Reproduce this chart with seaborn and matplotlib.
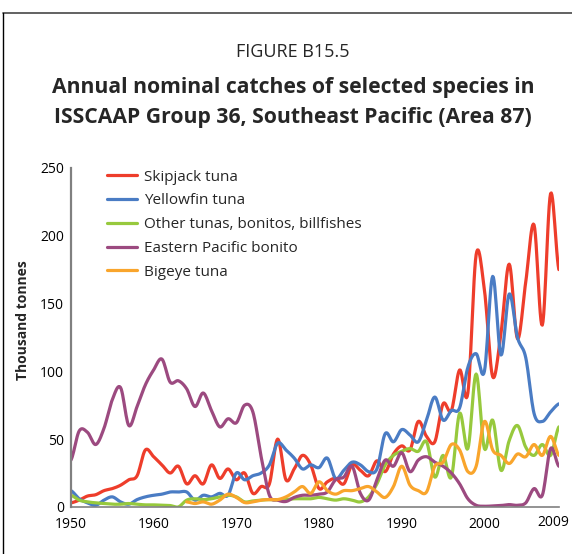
import numpy as np
import pandas as pd
import matplotlib.pyplot as plt
import matplotlib.transforms as mtransforms
import seaborn as sns
from matplotlib.lines import Line2D

# Annual catches, thousand tonnes
years = list(range(1950, 2010))

skipjack = [3, 5, 8, 9, 12, 13.5, 16, 20, 23, 42, 37, 31, 25, 30, 17, 23, 17, 31, 21, 28,
            20, 25, 10, 15, 17, 50, 20, 28, 38, 31, 13.5, 18.5, 21, 17, 31, 27, 23, 34, 26, 39,
            45, 42, 63, 52, 48, 76, 71, 101, 84, 186, 160, 96, 128, 179, 124, 166, 208, 134, 231, 175]

yellowfin = [12, 6, 3, 1.2, 5, 7.4, 3.7, 2, 5.4, 7.4, 8.6, 9.4, 11, 11, 11, 5, 8.6, 7.4, 10, 8.6,
             25, 20, 23, 25, 31, 47, 42, 36, 28, 31, 29, 36, 21, 27, 33, 31, 26, 28, 54, 48,
             57, 53, 48, 64, 81, 64, 71, 73, 103, 113, 100, 170, 112, 157, 125, 110, 69, 63, 70, 76]

other_tunas = [8.6, 5, 3.7, 3, 2.5, 2, 2, 2.5, 2, 1.5, 1.5, 1.2, 1, 0, 5, 6, 5.4, 6, 7.4, 8.6,
               7.4, 3.7, 4.4, 5, 5.4, 5, 5.4, 6, 6, 6, 7, 6, 5, 6, 5, 3.7, 7.4, 17, 31, 38,
               41, 43, 41, 48, 22, 38, 22, 69, 43, 98, 43, 64, 27, 49, 60, 44, 38, 46, 38, 59]

ep_bonito = [34.5, 56, 55, 46, 58, 79, 88, 60, 74, 90, 101, 109, 92, 93, 87, 74, 84, 71, 59, 65,
             62, 75, 70, 37, 8.6, 5, 4, 7, 8.6, 8.6, 9.4, 11, 20, 22, 30, 10, 5, 20, 34.5, 30,
             40, 26, 34.5, 37, 33, 30, 25, 17, 6, 1.2, 0.5, 0.7, 1, 1.7, 1.2, 3, 13.5, 8.6, 43, 30]

bigeye = [np.nan] * 14 + [3.7, 2.5, 3.7, 2, 5, 9.4, 7, 3.2, 3.7, 5, 5.4, 5.4, 7.4, 11, 15, 10,
                          18.5, 12, 9.4, 12, 12, 13.5, 15, 11, 7, 15, 30, 16, 12, 11, 30, 33, 46, 42, 26, 30,
                          63, 42, 38, 32, 39, 37, 46, 38, 52, 38]

series_names = ["Skipjack tuna", "Yellowfin tuna", "Other tunas, bonitos, billfishes",
                "Eastern Pacific bonito", "Bigeye tuna"]
series_values = [skipjack, yellowfin, other_tunas, ep_bonito, bigeye]
colors = ["#EE3D2B", "#4A7CC4", "#97C93D", "#9C4A80", "#F9A52C"]

x_ticks = [1950, 1960, 1970, 1980, 1990, 2000, 2009]


def smooth(xs, ys, n=12):
    # Catmull-Rom style smoothing, like the "smoothed line" option in spreadsheets
    xs = np.asarray(xs, float)
    ys = np.asarray(ys, float)
    ok = ~np.isnan(ys)
    xs, ys = xs[ok], ys[ok]
    out_x, out_y = [], []
    for i in range(len(xs) - 1):
        p0 = ys[i - 1] if i > 0 else ys[i]
        p3 = ys[i + 2] if i + 2 < len(ys) else ys[i + 1]
        p1, p2 = ys[i], ys[i + 1]
        t = np.linspace(0, 1, n, endpoint=False)
        c1 = p1 + (p2 - p0) / 6
        c2 = p2 - (p3 - p1) / 6
        yy = (1 - t) ** 3 * p1 + 3 * (1 - t) ** 2 * t * c1 + 3 * (1 - t) * t ** 2 * c2 + t ** 3 * p2
        out_x.extend(xs[i] + t * (xs[i + 1] - xs[i]))
        out_y.extend(yy)
    out_x.append(xs[-1])
    out_y.append(ys[-1])
    return out_x, out_y


frames = []
for name, vals in zip(series_names, series_values):
    sx, sy = smooth(years, vals)
    frames.append(pd.DataFrame({"year": sx, "catch": sy, "species": name}))
df = pd.concat(frames, ignore_index=True)

sns.set_style("white")
plt.rcParams["font.family"] = ["Open Sans", "DejaVu Sans"]

fig = plt.figure(figsize=(5.72, 5.54), dpi=100)
ax = fig.add_axes([0.124, 0.085, 0.853, 0.612])

sns.lineplot(data=df, x="year", y="catch", hue="species", hue_order=series_names,
             palette=colors, linewidth=2.3, sort=False, estimator=None, ax=ax)

ax.set_xlim(1950, 2009)
ax.set_ylim(0, 250)
ax.set_xticks(x_ticks)
ax.set_yticks([0, 50, 100, 150, 200, 250])
ax.tick_params(axis="both", labelsize=10, colors="black", length=3, width=1, direction="out", pad=2)
ax.tick_params(axis="x", pad=4)
ax.tick_params(axis="both", color="#808080")
ax.xaxis.get_major_ticks()[-1].tick1line.set_visible(False)
# last year label sits a little left and higher, as in the original
last_lbl = ax.get_xticklabels()[-1]
last_lbl.set_transform(last_lbl.get_transform() +
                       mtransforms.ScaledTranslation(-6 / 100, 2 / 100, fig.dpi_scale_trans))
ax.set_xlabel("")
ax.set_ylabel("Thousand tonnes", fontsize=10, fontweight="bold")
ax.yaxis.set_label_coords(-0.084, 0.55)

for side in ["top", "right"]:
    ax.spines[side].set_visible(False)
ax.spines["left"].set_color("#808080")
ax.spines["left"].set_linewidth(1.6)
ax.spines["bottom"].set_color("#808080")
ax.spines["bottom"].set_linewidth(1.2)

leg = ax.legend(loc="upper left", bbox_to_anchor=(0.045, 1.035), frameon=False, fontsize=11,
                handlelength=2.0, handletextpad=0.45, labelspacing=0.57)
for h in leg.get_lines():
    h.set_linewidth(2.3)

fig.text(0.512, 0.907, "FIGURE B15.5", ha="center", va="center", fontsize=13)
fig.text(0.512, 0.842, "Annual nominal catches of selected species in", ha="center", va="center",
         fontsize=15.2, fontweight="bold")
fig.text(0.512, 0.788, "ISSCAAP Group 36, Southeast Pacific (Area 87)", ha="center", va="center",
         fontsize=15.2, fontweight="bold")

# partial frame around the figure
fig.add_artist(Line2D([0.005, 1.0], [0.977, 0.977], color="#555555", linewidth=1.3))
fig.add_artist(Line2D([0.005, 0.005], [0.0, 0.977], color="black", linewidth=1.0))

fig.savefig("out.png", dpi=100)
